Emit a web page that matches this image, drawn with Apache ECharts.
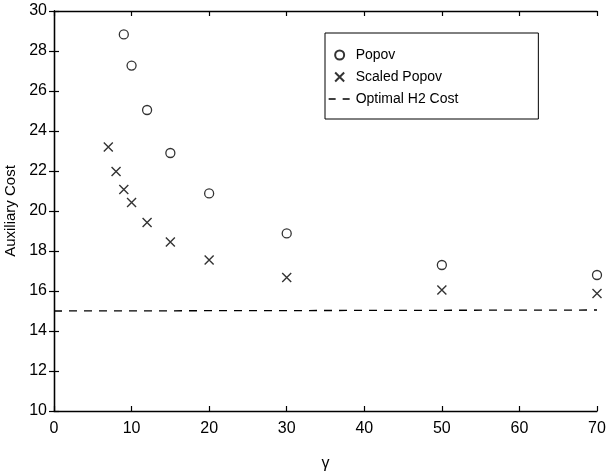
<!DOCTYPE html>
<html>
<head>
<meta charset="utf-8">
<script src="https://cdn.jsdelivr.net/npm/echarts@6/dist/echarts.min.js"></script>
<style>html,body{margin:0;padding:0;background:#fff;}#c{width:608px;height:471px;}</style>
</head>
<body>
<div id="c"></div>
<script>
const popovGamma = [9, 10, 12, 15, 20, 30, 50, 70];
const popovCost = [28.83, 27.27, 25.05, 22.9, 20.88, 18.88, 17.3, 16.8];
const scaledGamma = [7, 8, 9, 10, 12, 15, 20, 30, 50, 70];
const scaledCost = [23.2, 21.97, 21.08, 20.42, 19.42, 18.45, 17.55, 16.68, 16.05, 15.88];
const optimalGamma = [0, 70];
const optimalCost = [15.0, 15.05];
const xTicks = [0, 10, 20, 30, 40, 50, 60, 70];
const yTicks = [10, 12, 14, 16, 18, 20, 22, 24, 26, 28, 30];

const FONT = 'Liberation Sans';
const zip = (a, b) => a.map((v, i) => [v, b[i]]);
const chart = echarts.init(document.getElementById('c'), null, {renderer: 'canvas'});
const axisCommon = {
  axisLine: {show: true, lineStyle: {color: '#000', width: 1.3}},
  axisTick: {show: true, inside: true, length: 5, lineStyle: {color: '#000', width: 1.2}},
  splitLine: {show: false}
};
chart.setOption({
  animation: false,
  backgroundColor: '#fff',
  textStyle: {fontFamily: FONT, color: '#000'},
  grid: {left: 54, right: 11, top: 11, bottom: 60, containLabel: false, outerBoundsMode: 'none'},
  legend: {
    orient: 'vertical', left: 325, top: 33,
    borderColor: '#000', borderWidth: 1,
    padding: [15, 80, 13, 3],
    itemGap: 8, itemWidth: 22, itemHeight: 9,
    textStyle: {fontFamily: FONT, fontSize: 14, color: '#000'},
    data: [
      {name: 'Popov'},
      {name: 'Scaled Popov'},
      {name: 'Optimal H2 Cost',
       itemStyle: {color: 'rgba(0,0,0,0)', borderWidth: 0, borderColor: 'rgba(0,0,0,0)', opacity: 0},
       lineStyle: {color: '#000', width: 1.3, type: [7, 7]}}
    ]
  },
  xAxis: [
    Object.assign({type: 'value', min: xTicks[0], max: xTicks[xTicks.length-1], interval: 10,
      name: 'γ', nameLocation: 'middle', nameGap: 45,
      nameTextStyle: {fontFamily: FONT, fontSize: 16, color: '#000'},
      axisLabel: {fontFamily: FONT, fontSize: 16, color: '#000', margin: 10}}, axisCommon),
    Object.assign({type: 'value', position: 'top', min: 0, max: 70, interval: 10,
      axisLabel: {show: false}}, axisCommon)
  ],
  yAxis: [
    Object.assign({type: 'value', min: yTicks[0], max: yTicks[yTicks.length-1], interval: 2,
      name: 'Auxiliary Cost', nameLocation: 'middle', nameGap: 31,
      nameTextStyle: {fontFamily: FONT, fontSize: 15, color: '#000'},
      axisLabel: {fontFamily: FONT, fontSize: 16, color: '#000', margin: 7}}, axisCommon),
    Object.assign({type: 'value', position: 'right', min: 10, max: 30, interval: 2,
      axisLabel: {show: false}}, axisCommon)
  ],
  series: [
    {name: 'Popov', type: 'scatter', data: zip(popovGamma, popovCost),
     symbol: 'circle', symbolSize: 9,
     itemStyle: {color: 'rgba(255,255,255,0)', borderColor: '#000', borderWidth: 1.3}},
    {name: 'Scaled Popov', type: 'scatter', data: zip(scaledGamma, scaledCost),
     symbol: 'path://M0,0L10,10M10,0L0,10', symbolSize: 9,
     itemStyle: {color: 'none', borderColor: '#000', borderWidth: 1.4}},
    {name: 'Optimal H2 Cost', type: 'line', data: zip(optimalGamma, optimalCost),
     symbol: 'none', lineStyle: {color: '#000', width: 1.3, type: [8, 7]},
     itemStyle: {color: '#000'}}
  ]
});
</script>
</body>
</html>
